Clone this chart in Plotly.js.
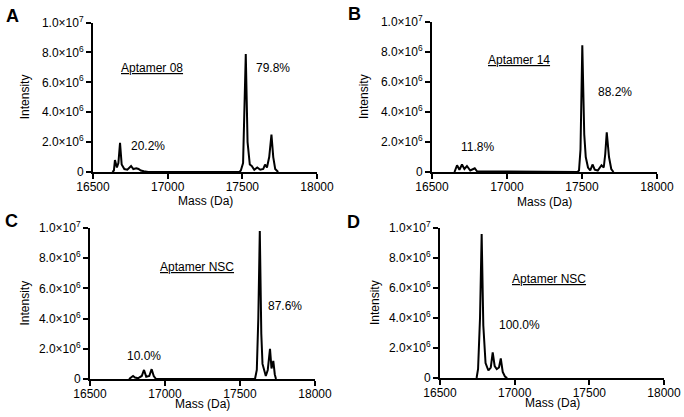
<!DOCTYPE html>
<html>
<head>
<meta charset="utf-8">
<script src="https://cdn.plot.ly/plotly-3.0.1.min.js"></script>
<style>html,body{margin:0;padding:0;background:#fff;}#chart{width:684px;height:417px;}</style>
</head>
<body>
<div id="chart"></div>
<script>
// Panel A – Aptamer 08 (mass in Da, intensity in counts)
const massA = [16630,16640,16647,16660,16670,16681,16692,16710,16730,16755,16770,16790,16805,16820,16840,16870,17480,17490,17505,17523,17535,17550,17563,17580,17600,17620,17640,17652,17665,17680,17695,17707,17720,17740];
const intA  = [0,0.1e6,0.8e6,0.3e6,0.6e6,1.95e6,0.5e6,0.2e6,0.15e6,0.4e6,0.2e6,0.25e6,0.2e6,0.1e6,0.05e6,0,0,0.1e6,0.6e6,7.9e6,2.0e6,0.5e6,0.4e6,0.15e6,0.3e6,0.15e6,0.2e6,0.5e6,0.3e6,1.0e6,2.5e6,1.0e6,0.2e6,0];
// Panel B – Aptamer 14
const massB = [16650,16667,16683,16700,16716,16733,16755,16770,16785,16800,16830,16860,17470,17480,17490,17502,17515,17525,17540,17555,17570,17585,17605,17630,17645,17655,17665,17680,17695,17710];
const intB  = [0,0.45e6,0.15e6,0.5e6,0.2e6,0.4e6,0.1e6,0.15e6,0.25e6,0.05e6,0.05e6,0,0,0.1e6,1.5e6,8.45e6,2.5e6,1.0e6,0.3e6,0.1e6,0.5e6,0.15e6,0.1e6,0.45e6,0.3e6,1.2e6,2.65e6,1.0e6,0.2e6,0];
// Panel C – Aptamer NSC
const massC = [16760,16775,16787,16800,16820,16845,16860,16875,16895,16911,16925,16940,17600,17612,17622,17632,17642,17650,17662,17672,17685,17700,17710,17722,17732,17740];
const intC  = [0,0.1e6,0.2e6,0.1e6,0.05e6,0.2e6,0.6e6,0.15e6,0.2e6,0.65e6,0.2e6,0,0,0.6e6,4.0e6,9.8e6,3.0e6,1.0e6,0.5e6,0.2e6,0.6e6,2.0e6,0.7e6,1.2e6,0.3e6,0];
// Panel D – Aptamer NSC
const massD = [16745,16755,16768,16779,16790,16805,16824,16840,16853,16866,16880,16895,16907,16920,16935,16950];
const intD  = [0,0.6e6,4.0e6,9.6e6,3.5e6,1.0e6,0.5e6,0.7e6,1.7e6,0.8e6,0.6e6,0.7e6,1.3e6,0.4e6,0.1e6,0];

const xTicks = [16500,17000,17500,18000];
const xTickText = ["16500","17000","17500","18000"];
const yTicks = [0,2e6,4e6,6e6,8e6,1e7];
const yTickText = ["0","2.0×10<sup>6</sup>","4.0×10<sup>6</sup>","6.0×10<sup>6</sup>","8.0×10<sup>6</sup>","1.0×10<sup>7</sup>"];

const panelLetters = ["A","B","C","D"];
const sampleLabels = ["Aptamer 08","Aptamer 14","Aptamer NSC","Aptamer NSC"];
const sampleLabelPos = [[16895,6.96e6],[17083,7.47e6],[17213,7.42e6],[17230,6.6e6]];
const pctLabels = [["20.2%","79.8%"],["11.8%","88.2%"],["10.0%","87.6%"],["100.0%"]];
const pctLabelPos = [[[16868,1.74e6],[17706,6.96e6]],[[16800,1.67e6],[17720,5.33e6]],[[16860,1.52e6],[17800,4.83e6]],[[17029,3.53e6]]];

const W = 684, H = 417;
// panel pixel boxes [x0,x1,yTop,yBottom]
const boxes = [[93,317,22.5,172],[432,657,22,172],[90,315,228,379],[440,664,228,378]];
const letterPos = [[12,16],[354,14],[11,221],[353,222]];
const yTitleX = [25,364,24,375];
const xTitleY = [201,202,404,403];

const FONT = "Arial, 'Liberation Sans', sans-serif";
const masses = [massA,massB,massC,massD];
const ints = [intA,intB,intC,intD];

const data = [];
const layout = {
  width: W, height: H,
  margin: {l:0,r:0,t:0,b:0},
  paper_bgcolor: "#fff", plot_bgcolor: "#fff",
  showlegend: false,
  font: {family: FONT, size: 12, color: "#000"},
  annotations: []
};

for (let i = 0; i < 4; i++) {
  const s = i === 0 ? "" : String(i+1);
  data.push({
    x: masses[i], y: ints[i], type: "scatter", mode: "lines",
    line: {color: "#000", width: 2},
    xaxis: "x" + s, yaxis: "y" + s, hoverinfo: "skip"
  });
  const [x0,x1,yt,yb] = boxes[i];
  layout["xaxis" + s] = {
    domain: [x0/W, x1/W], range: [16500,18000], anchor: "y" + s,
    showgrid: false, zeroline: false, showline: true, linecolor: "#000", linewidth: 2,
    ticks: "outside", ticklen: 5, tickwidth: 2, tickcolor: "#000",
    ticklabelstandoff: -2,
    tickmode: "array", tickvals: xTicks, ticktext: xTickText,
    tickfont: {family: FONT, size: 12, color: "#000"}
  };
  layout["yaxis" + s] = {
    domain: [1 - yb/H, 1 - yt/H], range: [0,1e7], anchor: "x" + s,
    showgrid: false, zeroline: false, showline: true, linecolor: "#000", linewidth: 2,
    ticks: "outside", ticklen: 5, tickwidth: 2, tickcolor: "#000",
    tickmode: "array", tickvals: yTicks, ticktext: yTickText,
    tickfont: {family: FONT, size: 12, color: "#000"}
  };
  // panel letter
  layout.annotations.push({
    xref: "paper", yref: "paper", x: letterPos[i][0]/W, y: 1 - letterPos[i][1]/H,
    text: "<b>" + panelLetters[i] + "</b>", showarrow: false,
    font: {family: FONT, size: 18, color: "#000"}, xanchor: "center", yanchor: "middle"
  });
  // axis titles
  layout.annotations.push({
    xref: "paper", yref: "y" + s + " domain", x: yTitleX[i]/W, y: 0.5,
    text: "Intensity", textangle: -90, showarrow: false,
    font: {family: FONT, size: 12, color: "#000"}, xanchor: "center", yanchor: "middle"
  });
  layout.annotations.push({
    xref: "x" + s + " domain", yref: "paper", x: 0.5, y: 1 - xTitleY[i]/H,
    text: "Mass (Da)", showarrow: false,
    font: {family: FONT, size: 12, color: "#000"}, xanchor: "center", yanchor: "middle"
  });
  // sample label (underlined)
  layout.annotations.push({
    xref: "x" + s, yref: "y" + s, x: sampleLabelPos[i][0], y: sampleLabelPos[i][1],
    text: '<span style="text-decoration:underline">' + sampleLabels[i] + '</span>', showarrow: false,
    font: {family: FONT, size: 12, color: "#000"}, xanchor: "center", yanchor: "middle"
  });
  for (let k = 0; k < pctLabels[i].length; k++) {
    layout.annotations.push({
      xref: "x" + s, yref: "y" + s, x: pctLabelPos[i][k][0], y: pctLabelPos[i][k][1],
      text: pctLabels[i][k], showarrow: false,
      font: {family: FONT, size: 12, color: "#000"}, xanchor: "center", yanchor: "middle"
    });
  }
}

Plotly.newPlot("chart", data, layout, {staticPlot: true, displayModeBar: false});
</script>
</body>
</html>
